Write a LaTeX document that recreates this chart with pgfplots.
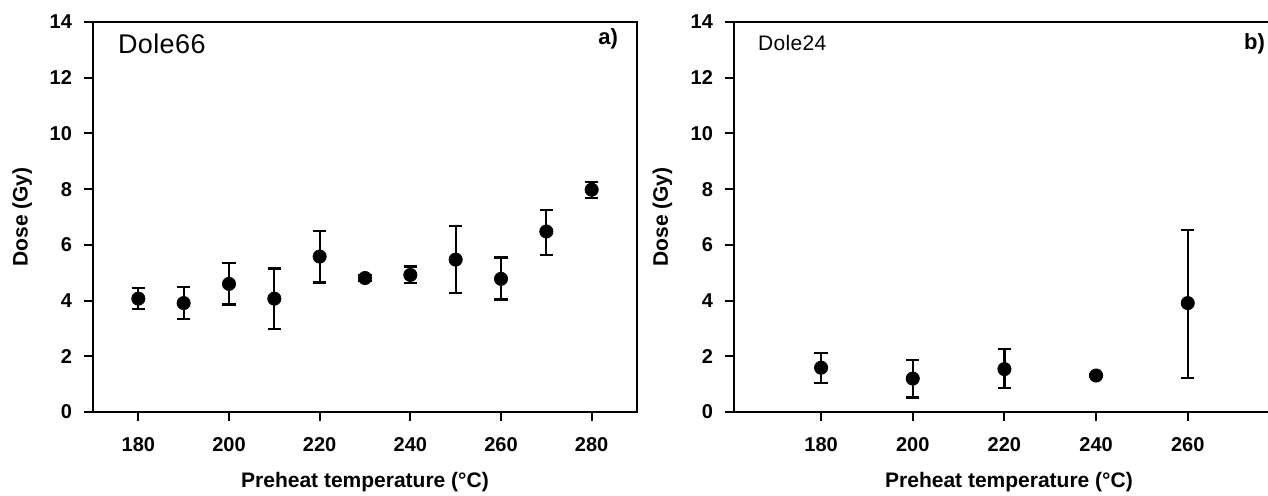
\documentclass[border=0pt]{standalone}
\usepackage{pgfplots}
\pgfplotsset{compat=1.18}
\usepackage{fontspec}
\setmainfont{Liberation Sans}

\pgfplotsset{
 panel/.style={scale only axis, height=195pt, ymin=0, ymax=14, ytick={0,2,...,14},
  axis line style={line width=1pt}, tick style={line width=1pt, black},
  tick align=outside, tick pos=left, major tick length=4.5pt,
  /pgf/number format/assume math mode=true,
  ticklabel style={font=\bfseries\fontsize{10}{10}\selectfont},
  yticklabel style={xshift=-2.5pt}, xticklabel style={yshift=-4.5pt},
  label style={font=\bfseries\fontsize{10.5}{12}\selectfont},
  xlabel={Preheat temperature (°C)}, ylabel={Dose (Gy)},
  xlabel style={at={(axis description cs:0.5,-0.18)}, anchor=center},
  ylabel style={at={(axis description cs:-0.13,0.5)}, anchor=center},
  anchor=south west, clip=false},
 dots/.style={only marks, mark=*, mark size=3.3pt, black,
  error bars/.cd, y dir=both, y explicit,
  error bar style={line width=1.1pt, black},
  error mark options={rotate=90, mark size=3.3pt, line width=1.1pt, black}}
}

\begin{document}
\begin{tikzpicture}
\begin{axis}[panel, at={(46.5pt,41.5pt)}, width=272pt, xmin=170, xmax=290, xtick={180,200,...,280}]
\addplot[dots] coordinates {
 (180,4.07) += (0,0.38) -= (0,0.36)
 (190,3.91) += (0,0.57) -= (0,0.58)
 (200,4.60) += (0,0.75) -= (0,0.74)
 (210,4.07) += (0,1.08) -= (0,1.08)
 (220,5.58) += (0,0.92) -= (0,0.93)
 (230,4.81) += (0,0.10) -= (0,0.10)
 (240,4.92) += (0,0.30) -= (0,0.29)
 (250,5.47) += (0,1.20) -= (0,1.21)
 (260,4.78) += (0,0.77) -= (0,0.74)
 (270,6.48) += (0,0.78) -= (0,0.85)
 (280,7.98) += (0,0.27) -= (0,0.30)
};
\node[anchor=west, font=\fontsize{13.5}{13.5}\selectfont\addfontfeature{LetterSpace=1.5}] at (axis description cs:0.033,0.944) {Dole66};
\node[anchor=east, font=\bfseries\fontsize{11}{11}\selectfont] at (axis description cs:0.978,0.956) {a)};
\end{axis}
\begin{axis}[panel, at={(367pt,41.5pt)}, width=275pt, xmin=161, xmax=281, xtick={180,200,...,260}]
\addplot[dots] coordinates {
 (180,1.59) += (0,0.53) -= (0,0.54)
 (200,1.20) += (0,0.68) -= (0,0.68)
 (220,1.54) += (0,0.73) -= (0,0.69)
 (240,1.31) += (0,0.05) -= (0,0.05)
 (260,3.91) += (0,2.62) -= (0,2.68)
};
\node[anchor=west, font=\fontsize{10.5}{10.5}\selectfont\addfontfeature{LetterSpace=1.5}] at (axis description cs:0.031,0.947) {Dole24};
\node[anchor=east, font=\bfseries\fontsize{11}{11}\selectfont] at (axis description cs:0.978,0.945) {b)};
\end{axis}
\pgfresetboundingbox
\path (0,0) rectangle (634pt,247.5pt);
\end{tikzpicture}
\end{document}
